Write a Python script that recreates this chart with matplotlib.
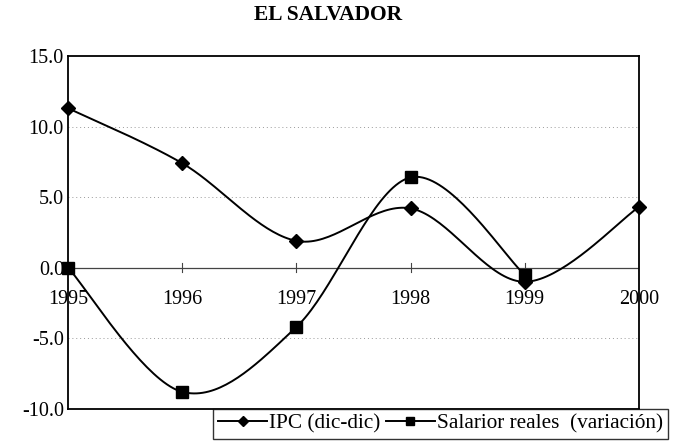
import numpy as np
import matplotlib.pyplot as plt

plt.rcParams['font.family'] = ['Liberation Serif', 'DejaVu Serif']

years = ['1995', '1996', '1997', '1998', '1999', '2000']
ipc = [11.3, 7.4, 1.9, 4.2, -1.0, 4.3]
salarios = [0.0, -8.8, -4.2, 6.4, -0.5]


# curva suavizada tipo Excel (bezier con puntos de control a 1/6)
def smooth(x, y, n=40):
    x = np.asarray(x, float)
    y = np.asarray(y, float)
    px = np.concatenate([[x[0]], x, [x[-1]]])
    py = np.concatenate([[y[0]], y, [y[-1]]])
    xs, ys = [], []
    t = np.linspace(0, 1, n)
    for i in range(len(x) - 1):
        p0 = np.array([px[i + 1], py[i + 1]])
        p3 = np.array([px[i + 2], py[i + 2]])
        p1 = p0 + (np.array([px[i + 2], py[i + 2]]) - np.array([px[i], py[i]])) / 6
        p2 = p3 - (np.array([px[i + 3], py[i + 3]]) - np.array([px[i + 1], py[i + 1]])) / 6
        b = ((1 - t) ** 3)[:, None] * p0 + (3 * (1 - t) ** 2 * t)[:, None] * p1 \
            + (3 * (1 - t) * t ** 2)[:, None] * p2 + (t ** 3)[:, None] * p3
        xs.append(b[:, 0])
        ys.append(b[:, 1])
    return np.concatenate(xs), np.concatenate(ys)


fig = plt.figure(figsize=(6.74, 4.41), dpi=100)
ax = fig.add_axes([0.101, 0.073, 0.847, 0.800])

x1 = np.arange(len(ipc))
x2 = np.arange(len(salarios))

sx, sy = smooth(x1, ipc)
ax.plot(sx, sy, color='black', lw=1.4, zorder=3)
ax.plot(x1, ipc, ls='none', marker='D', ms=7.5, color='black', zorder=4, clip_on=False)
sx, sy = smooth(x2, salarios)
ax.plot(sx, sy, color='black', lw=1.4, zorder=3)
ax.plot(x2, salarios, ls='none', marker='s', ms=8.5, color='black', zorder=4, clip_on=False)

# lineas para la leyenda
h1, = ax.plot([], [], color='black', lw=1.4, marker='D', ms=5)
h2, = ax.plot([], [], color='black', lw=1.4, marker='s', ms=6)

ax.set_xlim(0, 5)
ax.set_ylim(-10, 15)
ax.set_yticks([-10, -5, 0, 5, 10, 15])
ax.set_yticklabels(['%.1f' % v for v in [-10, -5, 0, 5, 10, 15]], fontsize=14.5)
ax.tick_params(axis='y', length=0, pad=3)

for v in [-5, 5, 10]:
    ax.axhline(v, color='#999999', lw=0.7, ls=(0, (1, 3)), zorder=1)

# eje horizontal en cero
ax.axhline(0, color='#444444', lw=0.9, zorder=2)
ax.set_xticks([])
for i, yr in enumerate(years):
    ax.plot([i, i], [-0.3, 0.3], color='#444444', lw=0.8)
    ax.text(i, -1.55, yr, ha='center', va='top', fontsize=14.5)

for s in ax.spines.values():
    s.set_linewidth(1.3)

fig.text(0.487, 0.966, 'EL SALVADOR', ha='center', va='center',
         fontsize=15.5, fontweight='bold')

leg = fig.legend([h1, h2], ['IPC (dic-dic)', 'Salarior reales  (variación)'],
                 loc='lower right', bbox_to_anchor=(668 / 674, 2 / 441), ncol=2,
                 fontsize=15.3, frameon=True, fancybox=False, edgecolor='black',
                 handlelength=2.3, handletextpad=0.1, columnspacing=0.25,
                 borderpad=0.25, borderaxespad=0.0)
leg.get_frame().set_linewidth(1.0)

fig.savefig('out.png', dpi=100)
